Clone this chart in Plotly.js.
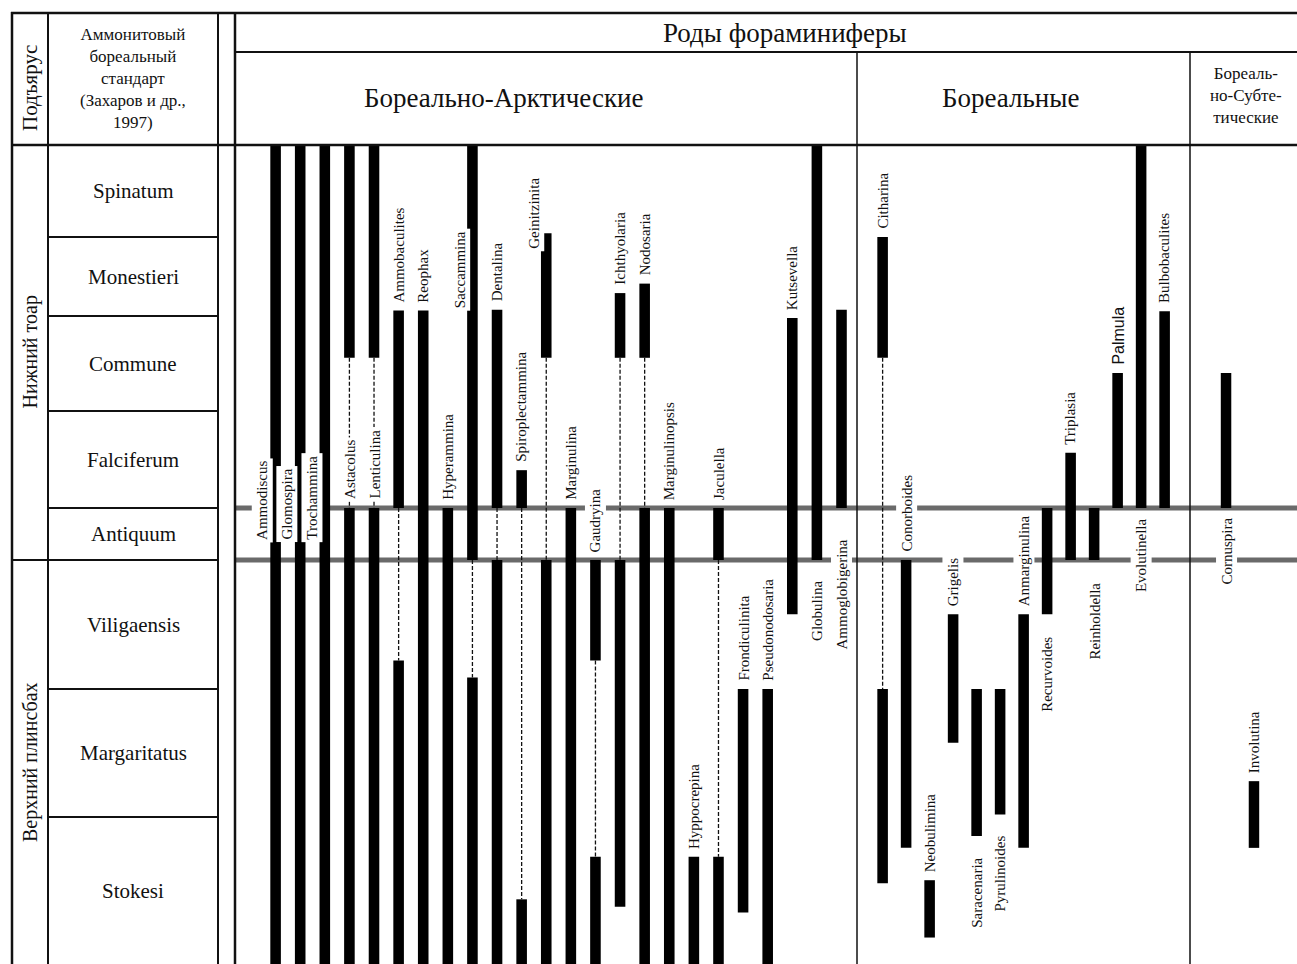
<!DOCTYPE html>
<html><head><meta charset="utf-8">
<script src="https://cdn.plot.ly/plotly-3.0.1.min.js"></script>
<style>html,body{margin:0;padding:0;background:#fff}#chart{width:1297px;height:964px}</style>
</head><body><div id="chart"></div>
<script>
// ---------------- DATA ----------------
const zones = ['Spinatum','Monestieri','Commune','Falciferum','Antiquum','Viligaensis','Margaritatus','Stokesi'];
// relative thickness of each ammonite zone as drawn on the scale
const zoneThickness = [92, 79, 95, 97, 52, 129, 128, 147];
const substages = ['Нижний тоар', 'Верхний плинсбах'];
const substageZones = [[0, 4], [5, 7]];

const headerMain = 'Роды фораминиферы';
const headerLeft = ['Аммонитовый', 'бореальный', 'стандарт', '(Захаров и др.,', '1997)'];
const headerSubstage = 'Подъярус';
const groupTitles = ['Бореально-Арктические', 'Бореальные', ['Бореаль-', 'но-Субте-', 'тические']];

// ranges: position = zone index + fraction of the zone (0 = top of Spinatum, 8 = bottom of Stokesi)
// each genus: list of solid intervals; consecutive intervals are linked by a dashed line
const baGenera = ['Ammodiscus','Glomospira','Trochammina','Astacolus','Lenticulina','Ammobaculites','Reophax',
  'Hyperammina','Saccammina','Dentalina','Spiroplectammina','Geinitzinita','Marginulina','Gaudryina',
  'Ichthyolaria','Nodosaria','Marginulinopsis','Hyppocrepina','Jaculella','Frondiculinita','Pseudonodosaria',
  'Kutsevella','Globulina','Ammoglobigerina'];
const baRanges = [
  [[0,8]], [[0,8]], [[0,8]],
  [[0,2.44],[4,8]], [[0,2.44],[4,8]],
  [[1.93,4],[5.78,8]], [[1.93,8]], [[4,8]],
  [[0,5],[5.91,8]], [[1.92,4],[5,8]], [[3.61,4],[7.56,8]],
  [[0.96,2.44],[5,8]], [[4,8]], [[5,5.78],[7.27,8]],
  [[1.71,2.44],[5,7.61]], [[1.59,2.44],[4,8]], [[4,8]],
  [[7.27,8]], [[4,5],[7.27,8]], [[6,7.65]], [[6,8]],
  [[2.02,5.42]], [[0,5]], [[1.92,4]]
];
const borealGenera = ['Citharina','Conorboides','Neobulimina','Grigelis','Saracenaria','Pyrulinoides',
  'Anmarginulina','Recurvoides','Triplasia','Reinholdella','Palmula','Evolutinella','Bulbobaculites'];
const borealRanges = [
  [[1.0,2.44],[6,7.45]], [[5,7.21]], [[7.43,7.82]], [[5.42,6.42]], [[6,7.13]], [[6,6.98]],
  [[5.42,7.21]], [[4,5.42]], [[3.43,5]], [[4,5]], [[2.6,4]], [[0,4]], [[1.94,4]]
];
const bstGenera = ['Cornuspira','Involutina'];
const bstRanges = [[[2.6,4]], [[6.72,7.21]]];

// ---------------- LAYOUT HELPERS ----------------
const W = 1297, H = 964;
const FONT = '"Liberation Serif", "Times New Roman", serif';
const px = v => v / W, py = v => 1 - v / H;

const cum = [0];
zoneThickness.forEach((t, i) => cum.push(cum[i] + t));
const total = cum[cum.length - 1];
function depth(p) {
  const i = Math.min(Math.floor(p), zones.length - 1);
  return cum[i] + (p - i) * zoneThickness[i];
}

// label placement (styling)
const labelPlace = {
  Ammodiscus: {mode: 'left', at: 4.67}, Glomospira: {mode: 'left', at: 4.67}, Trochammina: {mode: 'left', at: 4.67},
  Saccammina: {mode: 'left', at: 1.94}, Geinitzinita: {mode: 'left', at: 1.19},
  Astacolus: {mode: 'gap'}, Lenticulina: {mode: 'gap'},
  Globulina: {mode: 'below', gap: 18}, Ammoglobigerina: {mode: 'below', gap: 29},
  Saracenaria: {mode: 'below', gap: 19}, Pyrulinoides: {mode: 'below', gap: 18},
  Recurvoides: {mode: 'below', gap: 20}, Reinholdella: {mode: 'below', gap: 20},
  Evolutinella: {mode: 'below', gap: 7}, Cornuspira: {mode: 'below', gap: 7},
  Palmula: {font: '"Liberation Sans", Arial, sans-serif', size: 16}
};

const groups = [
  {genera: baGenera, ranges: baRanges, xa: 'x', width: 0.43},
  {genera: borealGenera, ranges: borealRanges, xa: 'x2', width: 0.45},
  {genera: bstGenera, ranges: bstRanges, xa: 'x3', width: 0.375}
];

const traces = [];
const annotations = [];
groups.forEach(g => {
  const bx = [], by = [], bb = [], dx = [], dy = [];
  g.genera.forEach((name, k) => {
    const segs = g.ranges[k];
    segs.forEach((s, j) => {
      bx.push(name); bb.push(depth(s[0])); by.push(depth(s[1]) - depth(s[0]));
      if (j > 0) { dx.push(name, name, null); dy.push(depth(segs[j-1][1]), depth(s[0]), null); }
    });
    // label
    const pl = labelPlace[name] || {};
    const mode = pl.mode || 'above';
    const a = {
      xref: g.xa, yref: 'y', x: name, text: name, textangle: -90, showarrow: false,
      font: {family: pl.font || FONT, size: pl.size || 15, color: '#111'},
      bgcolor: '#ffffff', borderpad: 2, xanchor: 'center'
    };
    if (mode === 'above') { a.y = depth(segs[0][0]); a.yanchor = 'bottom'; a.yshift = 5; }
    else if (mode === 'below') { a.y = depth(segs[segs.length-1][1]); a.yanchor = 'top'; a.yshift = -(pl.gap || 7); }
    else if (mode === 'left') { a.y = depth(pl.at); a.yanchor = 'bottom'; a.xshift = -13; }
    else if (mode === 'gap') { a.y = depth(segs[1][0]); a.yanchor = 'bottom'; a.yshift = 6; }
    annotations.push(a);
  });
  traces.push({type: 'bar', x: bx, y: by, base: bb, xaxis: g.xa, yaxis: 'y', width: g.width,
    marker: {color: '#000', line: {width: 0}}, hoverinfo: 'skip'});
  traces.push({type: 'scatter', mode: 'lines', x: dx, y: dy, xaxis: g.xa, yaxis: 'y', connectgaps: false,
    line: {color: '#111', width: 1.3, dash: '4px,2px'}, hoverinfo: 'skip'});
});

// ---------------- TABLE FRAME ----------------
const shapes = [];
const L = (x0, y0, x1, y1, w, extra) => Object.assign({type: 'line', xref: 'paper', yref: 'paper',
  x0: px(x0), y0: py(y0), x1: px(x1), y1: py(y1), line: {color: '#111', width: w}}, extra || {});
shapes.push(L(11, 13, 1297, 13, 2.5));
shapes.push(L(235, 52, 1297, 52, 2));
shapes.push(L(11, 145, 1297, 145, 2.5));
shapes.push(L(12, 12, 12, 964, 2.5));
shapes.push(L(48, 12, 48, 964, 2));
shapes.push(L(218, 12, 218, 964, 2));
shapes.push(L(235, 12, 235, 964, 2.5));
shapes.push(L(857, 52, 857, 964, 1.5));
shapes.push(L(1190, 52, 1190, 964, 1.5));
// zone boundaries in the ammonite column, substage boundary across both columns
for (let i = 1; i < zones.length; i++) {
  const isSub = substageZones.some(s => s[0] === i);
  shapes.push({type: 'line', xref: 'paper', yref: 'y', x0: px(isSub ? 12 : 48), x1: px(218),
    y0: cum[i], y1: cum[i], line: {color: '#111', width: 2}});
}
// grey marker lines at the base and top of Antiquum zone
[4, 5].forEach(i => shapes.push({type: 'line', xref: 'paper', yref: 'y', x0: px(235), x1: 1,
  y0: cum[i], y1: cum[i], layer: 'below', line: {color: '#6a6a6a', width: 5}}));

// ---------------- TEXTS ----------------
const T = (x, y, text, size, extra) => Object.assign({xref: 'paper', yref: 'paper', x: px(x), y: py(y), text: text,
  showarrow: false, xanchor: 'center', yanchor: 'middle', font: {family: FONT, size: size, color: '#111'}}, extra || {});
annotations.push(T(30, 88, headerSubstage, 21, {textangle: -90}));
annotations.push(T(133, 78, headerLeft.join('<br>'), 17));
annotations.push(T(785, 33, headerMain, 27));
annotations.push(T(504, 98, groupTitles[0], 27));
annotations.push(T(1010, 98, groupTitles[1], 27));
annotations.push(T(1246, 96, groupTitles[2].join('<br>'), 17));
zones.forEach((z, i) => annotations.push({xref: 'paper', yref: 'y', x: px(133), y: cum[i] + zoneThickness[i] / 2,
  text: z, showarrow: false, xanchor: 'center', yanchor: 'middle', font: {family: FONT, size: 21, color: '#111'}}));
substages.forEach((s, i) => annotations.push({xref: 'paper', yref: 'y', x: px(30),
  y: (cum[substageZones[i][0]] + cum[substageZones[i][1] + 1]) / 2, text: s, textangle: -90, showarrow: false,
  xanchor: 'center', yanchor: 'middle', font: {family: FONT, size: 20, color: '#111'}}));

const hidden = {visible: false, showgrid: false, zeroline: false, fixedrange: true};
const layout = {
  width: W, height: H, margin: {l: 0, r: 0, t: 0, b: 0, pad: 0},
  paper_bgcolor: '#fff', plot_bgcolor: 'rgba(0,0,0,0)', showlegend: false, barmode: 'overlay', hovermode: false,
  xaxis: Object.assign({type: 'category', categoryorder: 'array', categoryarray: baGenera,
    domain: [px(235), px(857)], range: [-1.65, 23.63], anchor: 'y'}, hidden),
  xaxis2: Object.assign({type: 'category', categoryorder: 'array', categoryarray: borealGenera,
    domain: [px(857), px(1190)], range: [-1.09, 13.08], anchor: 'y'}, hidden),
  xaxis3: Object.assign({type: 'category', categoryorder: 'array', categoryarray: bstGenera,
    domain: [px(1190), 1], range: [-1.29, 2.54], anchor: 'y'}, hidden),
  yaxis: Object.assign({domain: [0, py(145)], range: [total, 0], anchor: 'x'}, hidden),
  shapes: shapes, annotations: annotations
};
Plotly.newPlot('chart', traces, layout, {staticPlot: true, displayModeBar: false});
</script></body></html>
